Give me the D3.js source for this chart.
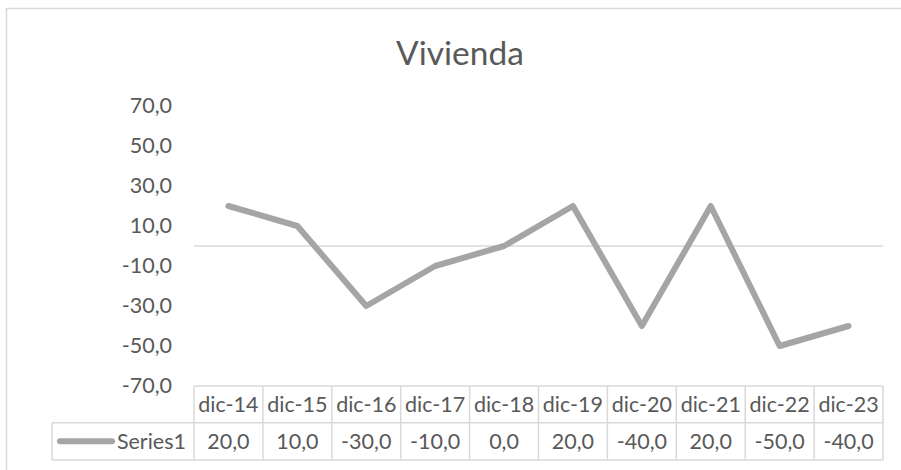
<!DOCTYPE html>
<html>
<head>
<meta charset="utf-8">
<script src="https://cdnjs.cloudflare.com/ajax/libs/d3/7.8.5/d3.min.js"></script>
<style>
body { margin: 0; background: #fff; }
text { font-family: Lato, "Open Sans", sans-serif; fill: #595959; }
</style>
</head>
<body>
<div id="chart"></div>
<script>
var categories = ["dic-14", "dic-15", "dic-16", "dic-17", "dic-18", "dic-19", "dic-20", "dic-21", "dic-22", "dic-23"];
var series1 = [20, 10, -30, -10, 0, 20, -40, 20, -50, -40];
var seriesName = "Series1";
var yTicks = [-70, -50, -30, -10, 10, 30, 50, 70];
var title = "Vivienda";

var fmt = function(v){ return d3.format(".1f")(v).replace(".", ",").replace("−", "-"); };

var svg = d3.select("#chart").append("svg")
	.attr("width", 901)
	.attr("height", 470);

// chart frame
svg.append("rect")
	.attr("x", 6.5).attr("y", 8.5)
	.attr("width", 910).attr("height", 480)
	.attr("fill", "#fff")
	.attr("stroke", "#d9d9d9")
	.attr("stroke-width", 1.5);

svg.append("text")
	.attr("x", 460).attr("y", 65)
	.attr("text-anchor", "middle")
	.style("font-size", "33.5px")
	.text(title);

var x = d3.scaleBand().domain(categories).range([194, 883]);
var y = d3.scaleLinear().domain([-70, 70]).range([386, 106]);

// y labels
var yAxis = d3.axisLeft(y).tickValues(yTicks).tickFormat(fmt).tickSize(0).tickPadding(0);
var ya = svg.append("g").attr("transform", "translate(172,0)").call(yAxis);
ya.select(".domain").remove();
ya.selectAll("text").style("font-size", "21.5px").attr("fill", "#595959").style("font-family", null);

// zero line
svg.append("line")
	.attr("x1", x.range()[0]).attr("x2", x.range()[1])
	.attr("y1", y(0)).attr("y2", y(0))
	.attr("stroke", "#d9d9d9").attr("stroke-width", 1.5);

// data table
var rowTop = y(-70), rowMid = 422.7, rowBot = 460, legLeft = 52;
var grid = svg.append("g").attr("stroke", "#d9d9d9").attr("stroke-width", 1.5);
grid.append("line").attr("x1", x.range()[0]).attr("x2", x.range()[1]).attr("y1", rowTop).attr("y2", rowTop);
grid.append("line").attr("x1", legLeft).attr("x2", x.range()[1]).attr("y1", rowMid).attr("y2", rowMid);
grid.append("line").attr("x1", legLeft).attr("x2", x.range()[1]).attr("y1", rowBot).attr("y2", rowBot);
grid.append("line").attr("x1", legLeft).attr("x2", legLeft).attr("y1", rowMid).attr("y2", rowBot);
grid.selectAll("line.col").data(categories.concat(["end"])).enter().append("line")
	.attr("class", "col")
	.attr("x1", function(d){ return d === "end" ? x.range()[1] : x(d); })
	.attr("x2", function(d){ return d === "end" ? x.range()[1] : x(d); })
	.attr("y1", rowTop).attr("y2", rowBot);

svg.selectAll("text.cat").data(categories).enter().append("text")
	.attr("class", "cat")
	.attr("x", function(d){ return x(d) + x.bandwidth() / 2; })
	.attr("y", (rowTop + rowMid) / 2 + 7.5)
	.attr("text-anchor", "middle")
	.style("font-size", "21.5px")
	.text(function(d){ return d; });

svg.selectAll("text.val").data(series1).enter().append("text")
	.attr("class", "val")
	.attr("x", function(d, i){ return x(categories[i]) + x.bandwidth() / 2; })
	.attr("y", (rowMid + rowBot) / 2 + 7.5)
	.attr("text-anchor", "middle")
	.style("font-size", "21.5px")
	.text(function(d){ return fmt(d); });

// legend key
svg.append("line")
	.attr("x1", 60).attr("x2", 112)
	.attr("y1", (rowMid + rowBot) / 2).attr("y2", (rowMid + rowBot) / 2)
	.attr("stroke", "#a5a5a5").attr("stroke-width", 6).attr("stroke-linecap", "round");
svg.append("text")
	.attr("x", 186).attr("y", (rowMid + rowBot) / 2 + 7.5)
	.attr("text-anchor", "end")
	.style("font-size", "21.5px")
	.text(seriesName);

// series line
var line = d3.line()
	.x(function(d, i){ return x(categories[i]) + x.bandwidth() / 2; })
	.y(function(d){ return y(d); });
svg.append("path")
	.datum(series1)
	.attr("d", line)
	.attr("fill", "none")
	.attr("stroke", "#a5a5a5")
	.attr("stroke-width", 6)
	.attr("stroke-linecap", "round")
	.attr("stroke-linejoin", "round");
</script>
</body>
</html>
